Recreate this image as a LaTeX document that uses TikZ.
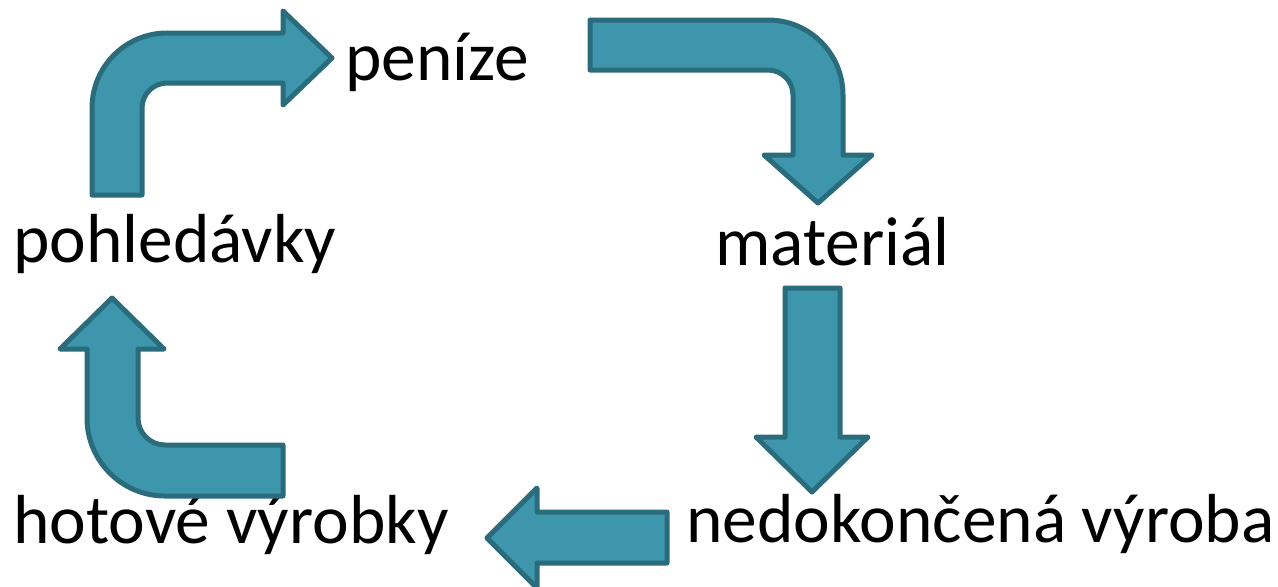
\documentclass[tikz,border=0pt]{standalone}
\usepackage{fontspec}
\setmainfont{Carlito}
\usepackage{tikz}
\usetikzlibrary{positioning, calc}
\usepackage{xcolor}

\definecolor{arrowfill}{RGB}{62,150,172}
\definecolor{arrowline}{RGB}{42,108,124}

\tikzset{
  blockarrow/.style={fill=arrowfill, draw=arrowline, line width=0.1cm, line join=round},
  label/.style={anchor=base west, inner sep=0pt, font=\fontsize{39.5}{47}\selectfont}
}

\begin{document}
\begin{tikzpicture}[x=0.02cm, y=0.02cm]
        \useasboundingbox (0, 0) rectangle (1278, -586);

        \node[label] (penize) at (345, -80) {peníze};
        \node[label] (pohledavky) at (13, -262) {pohledávky};
        \node[label] (material) at (715, -265) {materiál};
        \node[label] (hotove) at (13, -543) {hotové výrobky};
        \node[label] (nedokoncena) at (686, -542) {nedokončená výroba};

        % pohledavky -> penize
        \draw[blockarrow] (92, -195) -- (92, -108) arc[start angle=180, end angle=90, radius=75]
              -- (283, -33) -- (283, -11) -- (332, -58) -- (283, -105) -- (283, -83)
              -- (167, -83) arc[start angle=90, end angle=180, radius=25] -- (142, -195) -- cycle;

        % penize -> material
        \draw[blockarrow] (590, -20) -- (768, -20) arc[start angle=90, end angle=0, radius=75]
              -- (843, -155) -- (872, -155) -- (818, -203) -- (764, -155) -- (793, -155)
              -- (793, -95) arc[start angle=0, end angle=90, radius=25] -- (590, -70) -- cycle;

        % material -> nedokoncena vyroba
        \draw[blockarrow] (785, -288) -- (840, -288) -- (840, -437) -- (868, -437)
              -- (812, -492) -- (756, -437) -- (785, -437) -- cycle;

        % nedokoncena vyroba -> hotove vyrobky
        \draw[blockarrow] (667, -512) -- (537, -512) -- (537, -488) -- (487, -538)
              -- (537, -588) -- (537, -563) -- (667, -563) -- cycle;

        % hotove vyrobky -> pohledavky
        \draw[blockarrow] (283, -445) -- (165, -445) arc[start angle=270, end angle=180, radius=27]
              -- (138, -349) -- (164, -349) -- (112, -298) -- (60, -349) -- (87, -349)
              -- (87, -418) arc[start angle=180, end angle=270, radius=78] -- (283, -496) -- cycle;

\end{tikzpicture}
\end{document}
